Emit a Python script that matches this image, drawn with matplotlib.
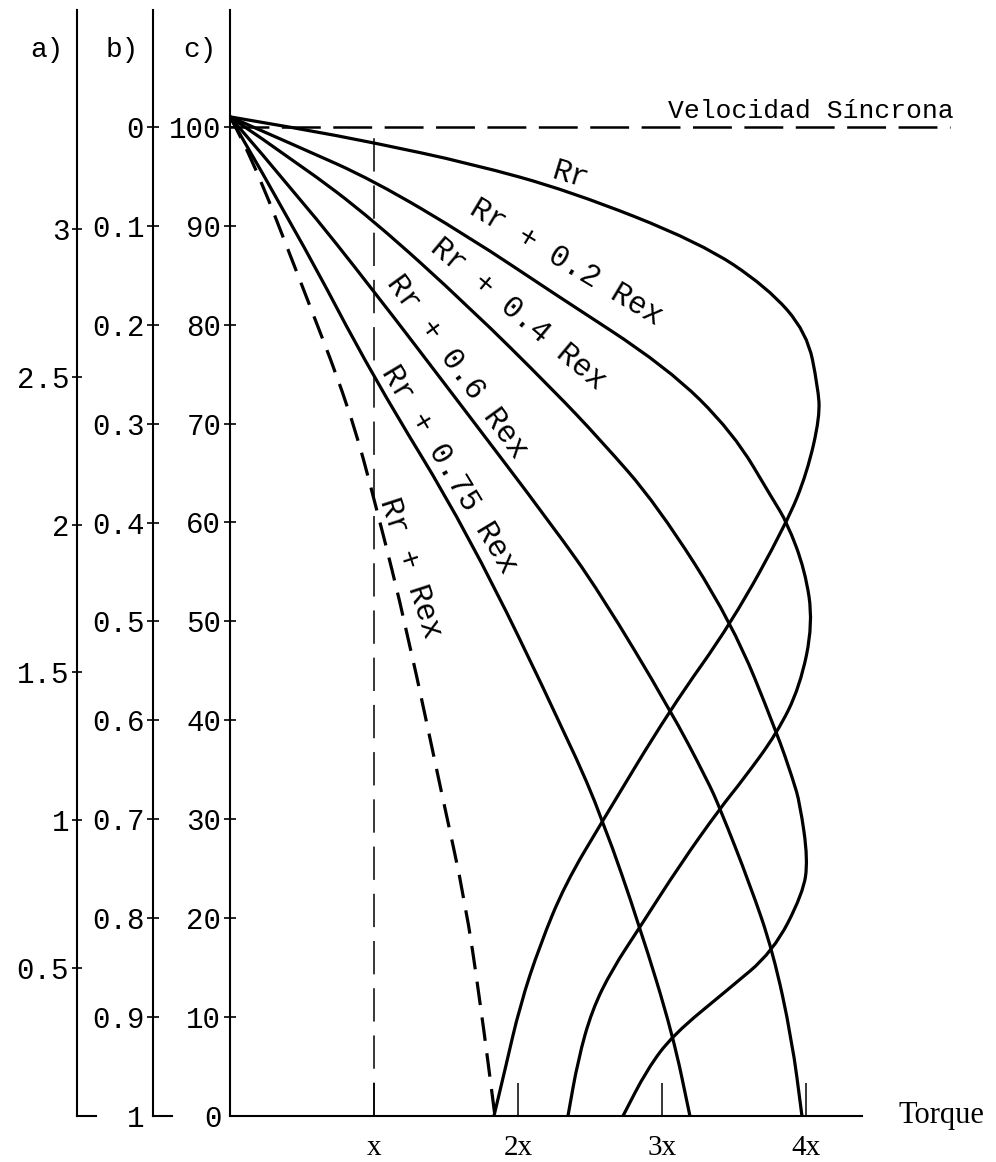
import numpy as np
import matplotlib
matplotlib.use("Agg")
import matplotlib.pyplot as plt
from matplotlib.path import Path
from matplotlib.patches import PathPatch

plt.rcParams['font.family'] = ['Liberation Mono', 'DejaVu Sans Mono']
plt.rcParams['lines.scale_dashes'] = False

# curves: torque (in units of x) and speed (% of synchronous)
rr_torque = [0, 0.486, 0.993, 1.667, 2.361, 3.264, 3.729, 4.007, 4.083, 4.097, 4.007,
             3.868, 3.486, 3.056, 2.590, 2.326, 2.153, 2.014, 1.910, 1.833]
rr_speed = [101.0, 99.8, 98.4, 96.3, 93.5, 88.3, 83.8, 79.2, 73.7, 70.7, 65.0,
            60.0, 49.9, 41.1, 29.9, 23.4, 17.3, 11.2, 4.7, 0]

r02_torque = [0, 0.486, 0.993, 1.667, 2.243, 3.035, 3.493, 3.771, 3.868, 3.993, 4.049,
              3.958, 3.799, 3.563, 3.403, 3.125, 2.847, 2.653, 2.514, 2.417, 2.347]
r02_speed = [101.0, 97.9, 94.6, 88.8, 83.2, 75.7, 69.1, 62.3, 60.0, 55.2, 49.8,
             43.4, 38.7, 34.0, 31.1, 25.4, 19.1, 14.8, 10.7, 5.7, 0]

r04_torque = [0, 0.486, 0.993, 1.667, 2.243, 2.569, 2.965, 3.486, 3.799, 3.910, 3.958,
              4.014, 3.979, 3.771, 3.451, 3.076, 2.896, 2.729]
r04_speed = [101.0, 96.2, 90.6, 81.7, 73.4, 68.4, 61.8, 49.9, 38.7, 34.0, 31.6,
             25.9, 22.5, 16.6, 12.7, 8.2, 4.7, 0]

r06_torque = [0, 0.486, 0.993, 1.576, 2.243, 2.569, 3.056, 3.313, 3.403, 3.611, 3.771,
              3.903, 3.972]
r06_speed = [101.0, 92.8, 83.5, 72.4, 59.6, 52.9, 41.1, 34.0, 31.1, 23.4, 16.6, 7.7, 0]

r075_torque = [0, 0.486, 0.993, 1.653, 2.361, 2.590, 2.847, 3.076, 3.194]
r075_speed = [101.0, 88.8, 74.7, 59.0, 37.7, 29.9, 19.1, 8.2, 0]

rex_torque = [0, 0.139, 0.486, 0.833, 1.021, 1.229, 1.479, 1.632, 1.736, 1.840]
rex_speed = [101.0, 97.4, 84.5, 71.4, 61.3, 49.1, 32.0, 21.8, 11.7, 0]

# curve labels: text, torque, speed, angle
labels = ["Rr", "Rr + 0.2 Rex", "Rr + 0.4 Rex", "Rr + 0.6 Rex", "Rr + 0.75 Rex", "Rr + Rex"]
label_torque = [2.361, 2.333, 2.0, 1.576, 1.521, 1.25]
label_speed = [95.1, 86.3, 81.0, 75.7, 65.3, 55.4]
label_angle = [-17, -31, -40, -54, -59, -72]

sync_speed = 100
sync_end = 5.0        # dashed synchronous line runs past the torque axis
x_line_top = 99.2     # top of the dashed line at torque = x

# scale a) and scale b) (slip)
a_ticks = [0.5, 1, 1.5, 2, 2.5, 3]
a_labels = ["0.5", "1", "1.5", "2", "2.5", "3"]
b_ticks = [0, 0.1, 0.2, 0.3, 0.4, 0.5, 0.6, 0.7, 0.8, 0.9, 1.0]
b_labels = ["0", "0.1", "0.2", "0.3", "0.4", "0.5", "0.6", "0.7", "0.8", "0.9", "1"]
c_ticks = list(range(0, 101, 10))
x_ticks = [1, 2, 3, 4]
x_labels = ["x", "2x", "3x", "4x"]


def smooth(xs, ys):
    # quadratic b-spline through the read points
    p = np.column_stack([xs, ys])
    verts = [p[0]]
    codes = [Path.MOVETO]
    for i in range(1, len(p) - 1):
        verts += [p[i], (p[i] + p[i + 1]) / 2]
        codes += [Path.CURVE3, Path.CURVE3]
    verts.append(p[-1])
    codes.append(Path.LINETO)
    return Path(verts, codes)


W, H = 996, 1162
fig = plt.figure(figsize=(W / 100, H / 100), dpi=100)
bot = (H - 1116) / H
hgt = (1116 - 10) / H

ax = fig.add_axes([230 / W, bot, (862 - 230) / W, hgt])
ax.patch.set_visible(False)
ax.set_xlim(0, 4.389)
ax.set_ylim(0, 111.8)
for s in ['top', 'right']:
    ax.spines[s].set_visible(False)
for s in ['left', 'bottom']:
    ax.spines[s].set_linewidth(1.5)

ax.set_yticks(c_ticks, labels=[str(v) for v in c_ticks], fontsize=21)
ax.tick_params(axis='y', direction='inout', length=8.6, width=1.2, pad=2)
ax.yaxis.get_major_ticks()[0].tick1line.set_visible(False)
ax.set_xticks(x_ticks, labels=x_labels, fontsize=21, fontfamily='Liberation Serif')
ax.tick_params(axis='x', direction='in', length=24, width=1.1, pad=14)

# scale a)
ax_a = fig.add_axes([77 / W, bot, 19 / W, hgt])
ax_a.patch.set_visible(False)
ax_a.set_ylim(0, 3.74)
ax_a.set_xticks([])
ax_a.set_yticks(a_ticks, labels=a_labels, fontsize=21)
ax_a.tick_params(axis='y', direction='inout', length=7.2, width=1.2, pad=2)

# scale b) slip
ax_b = fig.add_axes([153 / W, bot, 19 / W, hgt])
ax_b.patch.set_visible(False)
ax_b.set_ylim(1, -0.1183)
ax_b.set_xticks([])
ax_b.set_yticks(b_ticks, labels=b_labels, fontsize=21)
ax_b.tick_params(axis='y', direction='inout', length=8.6, width=1.2, pad=2)
ax_b.yaxis.get_major_ticks()[-1].tick1line.set_visible(False)

for a in (ax_a, ax_b):
    for s in ['top', 'right']:
        a.spines[s].set_visible(False)
    for s in ['left', 'bottom']:
        a.spines[s].set_linewidth(1.5)

for a, name in ((ax_a, "a)"), (ax_b, "b)"), (ax, "c)")):
    a.annotate(name, xy=(0, 0.9638), xycoords='axes fraction', xytext=(-10, 0),
               textcoords='offset points', ha='right', va='center', fontsize=20)

# synchronous speed and x reference lines
ax.plot([0, sync_end], [sync_speed, sync_speed], color='black', lw=1.8,
        ls=(0, (28, 9)), clip_on=False)
ax.text(3.04, 100.9, "Velocidad Síncrona", fontsize=19, ha='left', va='baseline')
ax.plot([1, 1], [0, x_line_top], color='black', lw=1.1, ls=(0, (24, 10)))

curves = [(rr_torque, rr_speed), (r02_torque, r02_speed), (r04_torque, r04_speed),
          (r06_torque, r06_speed), (r075_torque, r075_speed)]
for t, n in curves:
    ax.add_patch(PathPatch(smooth(t, n), fill=False, ec='black', lw=2.3))
ax.add_patch(PathPatch(smooth(rex_torque, rex_speed), fill=False, ec='black', lw=2.3,
                       ls=(0, (17, 9))))

for txt, t, n, ang in zip(labels, label_torque, label_speed, label_angle):
    ax.text(t, n, txt, fontsize=22, rotation=ang, rotation_mode='anchor',
            ha='center', va='center')

ax.text(4.64, 0, "Torque", fontsize=22, fontfamily='Liberation Serif',
        ha='left', va='center', clip_on=False)

fig.savefig("out.png", dpi=100)
